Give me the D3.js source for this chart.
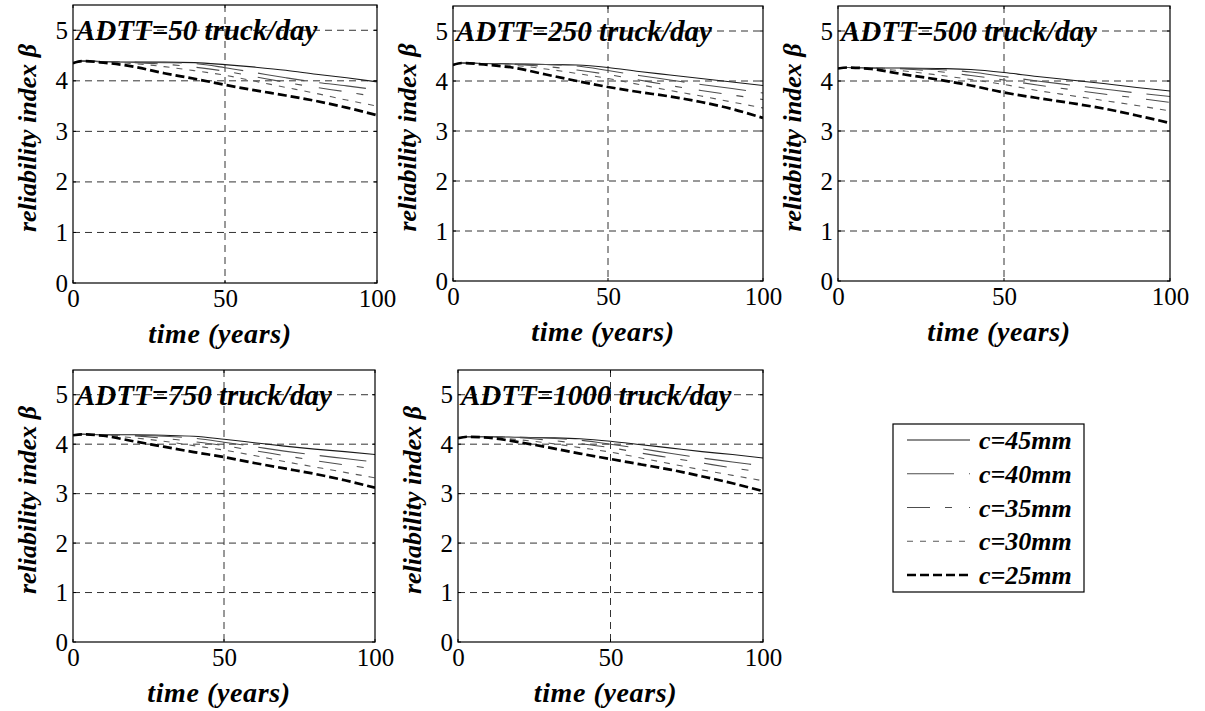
<!DOCTYPE html>
<html>
<head>
<meta charset="utf-8">
<script src="https://cdn.jsdelivr.net/npm/d3@7"></script>
<style>
  html, body { margin: 0; padding: 0; background: #fff; }
  svg { display: block; }
  svg text { font-family: "Liberation Serif", "Times New Roman", serif; fill: #000; }
</style>
</head>
<body>
<svg id="chart" width="1205" height="711"></svg>
<script>
// ---------------- data ----------------
const years = [0, 3, 10, 20, 30, 40, 50, 60, 70, 80, 90, 100];
const covers = ["c=45mm", "c=40mm", "c=35mm", "c=30mm", "c=25mm"];
const panelTitles = ["ADTT=50 truck/day", "ADTT=250 truck/day", "ADTT=500 truck/day", "ADTT=750 truck/day", "ADTT=1000 truck/day"];
const yTicks = [0, 1, 2, 3, 4, 5];
const xTicks = [0, 50, 100];
const xLabel = "time (years)";
const yLabel = "reliability index \u03B2";

// beta per panel; rows follow `covers` order (45, 40, 35, 30, 25 mm)
const betaADTT50 = [
  [4.35, 4.39, 4.38, 4.37, 4.37, 4.36, 4.32, 4.27, 4.21, 4.13, 4.06, 3.98],
  [4.35, 4.39, 4.38, 4.37, 4.36, 4.34, 4.26, 4.16, 4.06, 3.97, 3.90, 3.82],
  [4.35, 4.39, 4.38, 4.36, 4.33, 4.27, 4.19, 4.08, 3.97, 3.87, 3.78, 3.68],
  [4.35, 4.39, 4.37, 4.34, 4.28, 4.20, 4.11, 3.99, 3.87, 3.75, 3.62, 3.50],
  [4.35, 4.39, 4.36, 4.28, 4.15, 4.04, 3.92, 3.81, 3.71, 3.60, 3.47, 3.32]
];
const betaADTT250 = [
  [4.32, 4.36, 4.35, 4.34, 4.33, 4.32, 4.27, 4.19, 4.12, 4.05, 3.98, 3.91],
  [4.32, 4.36, 4.35, 4.34, 4.33, 4.30, 4.21, 4.11, 4.02, 3.93, 3.85, 3.76],
  [4.32, 4.36, 4.35, 4.33, 4.29, 4.22, 4.13, 4.02, 3.91, 3.81, 3.72, 3.63],
  [4.32, 4.36, 4.34, 4.31, 4.24, 4.15, 4.05, 3.93, 3.81, 3.70, 3.58, 3.46],
  [4.32, 4.36, 4.33, 4.26, 4.13, 4.00, 3.88, 3.78, 3.69, 3.58, 3.44, 3.26]
];
const betaADTT500 = [
  [4.25, 4.27, 4.26, 4.26, 4.25, 4.23, 4.17, 4.09, 4.02, 3.95, 3.87, 3.80],
  [4.25, 4.27, 4.26, 4.25, 4.23, 4.18, 4.09, 4.00, 3.92, 3.84, 3.76, 3.69],
  [4.25, 4.27, 4.26, 4.24, 4.19, 4.11, 4.02, 3.92, 3.83, 3.74, 3.66, 3.57],
  [4.25, 4.27, 4.25, 4.20, 4.12, 4.03, 3.93, 3.81, 3.71, 3.61, 3.51, 3.40],
  [4.25, 4.27, 4.24, 4.13, 4.03, 3.91, 3.77, 3.66, 3.56, 3.45, 3.31, 3.16]
];
const betaADTT750 = [
  [4.18, 4.20, 4.19, 4.19, 4.18, 4.16, 4.10, 4.03, 3.96, 3.90, 3.85, 3.79],
  [4.18, 4.20, 4.19, 4.18, 4.16, 4.12, 4.04, 3.95, 3.86, 3.78, 3.71, 3.64],
  [4.18, 4.20, 4.19, 4.17, 4.12, 4.05, 3.97, 3.87, 3.77, 3.67, 3.58, 3.50],
  [4.18, 4.20, 4.18, 4.13, 4.06, 3.97, 3.88, 3.77, 3.65, 3.54, 3.43, 3.32],
  [4.18, 4.20, 4.17, 4.06, 3.95, 3.84, 3.74, 3.62, 3.51, 3.40, 3.27, 3.12]
];
const betaADTT1000 = [
  [4.12, 4.15, 4.15, 4.14, 4.13, 4.11, 4.06, 3.99, 3.92, 3.85, 3.79, 3.72],
  [4.12, 4.15, 4.15, 4.14, 4.12, 4.08, 4.00, 3.91, 3.81, 3.72, 3.64, 3.56],
  [4.12, 4.15, 4.15, 4.13, 4.08, 4.01, 3.93, 3.82, 3.72, 3.62, 3.52, 3.43],
  [4.12, 4.15, 4.14, 4.09, 4.02, 3.93, 3.84, 3.72, 3.60, 3.48, 3.37, 3.26],
  [4.12, 4.15, 4.13, 4.04, 3.93, 3.81, 3.70, 3.59, 3.48, 3.35, 3.21, 3.05]
];
const panelData = [betaADTT50, betaADTT250, betaADTT500, betaADTT750, betaADTT1000];

// ---------------- layout & styles ----------------
const boxes = [
  { x0: 73,  x1: 377,  y0: 5,   y1: 283 },
  { x0: 453, x1: 763,  y0: 6,   y1: 281 },
  { x0: 838, x1: 1170, y0: 6,   y1: 281 },
  { x0: 73,  x1: 375,  y0: 370, y1: 642 },
  { x0: 458, x1: 763,  y0: 370, y1: 642 }
];
const lineStyles = [
  { stroke: "#1a1a1a", width: 1.1, dash: null },
  { stroke: "#4d4d4d", width: 1.1, dash: "47,15" },
  { stroke: "#4d4d4d", width: 1.1, dash: "23,15,7,17" },
  { stroke: "#5a5a5a", width: 1.1, dash: "6,7" },
  { stroke: "#000", width: 2.7, dash: "9,4" }
];

const svg = d3.select("#chart");
const defs = svg.append("defs");

panelData.forEach((series, p) => {
  const b = boxes[p];
  const x = d3.scaleLinear().domain([0, 100]).range([b.x0, b.x1]);
  const y = d3.scaleLinear().domain([0, 5.5]).range([b.y1, b.y0]);
  const g = svg.append("g");

  defs.append("clipPath").attr("id", "clip" + p)
    .append("rect").attr("x", b.x0).attr("y", b.y0)
    .attr("width", b.x1 - b.x0).attr("height", b.y1 - b.y0);

  // grid
  g.selectAll(".hg").data(yTicks.filter(t => t > 0)).join("line")
    .attr("x1", b.x0).attr("x2", b.x1)
    .attr("y1", d => y(d)).attr("y2", d => y(d))
    .attr("stroke", "#333").attr("stroke-width", 1).attr("stroke-dasharray", "7,5");
  g.selectAll(".vg").data(xTicks.filter(t => t > 0 && t < 100)).join("line")
    .attr("x1", d => x(d)).attr("x2", d => x(d))
    .attr("y1", b.y0).attr("y2", b.y1)
    .attr("stroke", "#333").attr("stroke-width", 1).attr("stroke-dasharray", "7,5");

  // axes (tick labels) via d3 axes
  const yAxis = d3.axisLeft(y).tickValues(yTicks).tickSize(0).tickPadding(5).tickFormat(d3.format("d"));
  const xAxis = d3.axisBottom(x).tickValues(xTicks).tickSize(0).tickPadding(6).tickFormat(d3.format("d"));
  const ya = g.append("g").attr("transform", `translate(${b.x0},0)`).call(yAxis);
  const xa = g.append("g").attr("transform", `translate(0,${b.y1})`).call(xAxis);
  [ya, xa].forEach(a => {
    a.attr("font-family", null).attr("font-size", null);
    a.select(".domain").remove();
    a.selectAll("text").style("font-size", "25px").attr("fill", "#000");
  });

  // inward tick marks on all four sides
  yTicks.forEach(t => {
    g.append("line").attr("x1", b.x0).attr("x2", b.x0 + 3).attr("y1", y(t)).attr("y2", y(t)).attr("stroke", "#000");
    g.append("line").attr("x1", b.x1 - 3).attr("x2", b.x1).attr("y1", y(t)).attr("y2", y(t)).attr("stroke", "#000");
  });
  xTicks.forEach(t => {
    g.append("line").attr("x1", x(t)).attr("x2", x(t)).attr("y1", b.y1).attr("y2", b.y1 - 3).attr("stroke", "#000");
    g.append("line").attr("x1", x(t)).attr("x2", x(t)).attr("y1", b.y0).attr("y2", b.y0 + 3).attr("stroke", "#000");
  });

  // curves
  const line = d3.line().x((d, i) => x(years[i])).y(d => y(d)).curve(d3.curveMonotoneX);
  const lg = g.append("g").attr("clip-path", `url(#clip${p})`);
  series.forEach((vals, s) => {
    const st = lineStyles[s];
    lg.append("path").attr("d", line(vals))
      .attr("fill", "none").attr("stroke", st.stroke).attr("stroke-width", st.width)
      .attr("stroke-dasharray", st.dash);
  });

  // frame
  g.append("rect").attr("x", b.x0).attr("y", b.y0)
    .attr("width", b.x1 - b.x0).attr("height", b.y1 - b.y0)
    .attr("fill", "none").attr("stroke", "#000").attr("stroke-width", 1.2);

  // panel title
  g.append("text").attr("x", b.x0 + 3).attr("y", y(5)).attr("dy", "0.35em")
    .style("font-size", "29px").style("font-weight", "bold").style("font-style", "italic")
    .text(panelTitles[p]);

  // axis labels
  g.append("text").attr("x", (b.x0 + b.x1) / 2 - 5).attr("y", b.y1 + 50).attr("dy", "0.35em")
    .attr("text-anchor", "middle")
    .style("font-size", "28px").style("font-weight", "bold").style("font-style", "italic")
    .style("letter-spacing", "0.6px")
    .text(xLabel);
  const cy = (b.y0 + b.y1) / 2 - 6;
  g.append("text").attr("transform", `translate(${b.x0 - 46},${cy}) rotate(-90)`)
    .attr("dy", "0.35em").attr("text-anchor", "middle")
    .style("font-size", "26px").style("font-weight", "bold").style("font-style", "italic")
    .text(yLabel);
});

// ---------------- legend ----------------
const leg = svg.append("g");
const lb = { x: 893, y: 424, w: 191, h: 168 };
leg.append("rect").attr("x", lb.x).attr("y", lb.y).attr("width", lb.w).attr("height", lb.h)
  .attr("fill", "#fff").attr("stroke", "#000").attr("stroke-width", 1.2);
const rowY = d3.scalePoint().domain(covers).range([440, 575]);
covers.forEach((c, i) => {
  const st = lineStyles[i];
  leg.append("line").attr("x1", 907).attr("x2", 970).attr("y1", rowY(c)).attr("y2", rowY(c))
    .attr("stroke", st.stroke).attr("stroke-width", st.width).attr("stroke-dasharray", st.dash);
  leg.append("text").attr("x", 979).attr("y", rowY(c)).attr("dy", "0.35em")
    .style("font-size", "26px").style("font-weight", "bold").style("font-style", "italic")
    .text(c);
});
</script>
</body>
</html>
